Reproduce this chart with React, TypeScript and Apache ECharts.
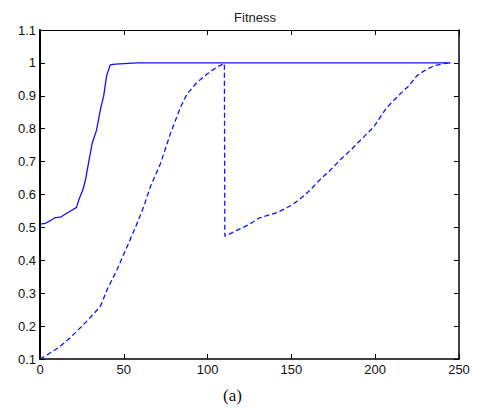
import React, { useEffect, useRef } from "react";
import * as echarts from "echarts";

const xTicks = [0, 50, 100, 150, 200, 250];
const solidX = [0, 3, 6, 9.2, 12.2, 15, 18.2, 21.8, 23.1, 25.7, 27.1, 29.1, 31.1, 33.7, 36.1, 38, 39.7, 41.9, 45, 58, 100, 150, 200, 245];
const solidY = [0.51, 0.512, 0.52, 0.53, 0.531, 0.54, 0.55, 0.561, 0.583, 0.616, 0.644, 0.7, 0.755, 0.795, 0.86, 0.9, 0.96, 0.994, 0.996, 1.0, 1.0, 1.0, 1.0, 1.0];
const dashX = [0, 5, 11.2, 17, 23.1, 28.1, 32, 36.1, 40.1, 46, 52, 58, 61.9, 65.9, 71.9, 77.8, 83.8, 87.8, 93.7, 99.7, 105.7, 110, 110.3, 117, 124.5, 130.5, 141.4, 150.4, 156, 161.3, 167, 173.2, 179, 185.2, 195.1, 199.1, 203, 207, 215, 220, 224.9, 229, 234.8, 240, 244.8];
const dashY = [0.1, 0.115, 0.135, 0.16, 0.19, 0.216, 0.237, 0.261, 0.311, 0.372, 0.442, 0.513, 0.563, 0.624, 0.694, 0.785, 0.865, 0.906, 0.941, 0.966, 0.988, 0.998, 0.473, 0.49, 0.508, 0.528, 0.545, 0.568, 0.59, 0.614, 0.645, 0.674, 0.705, 0.734, 0.785, 0.805, 0.835, 0.865, 0.906, 0.93, 0.961, 0.975, 0.991, 0.997, 1.0];

export default function App() {
  const ref = useRef<HTMLDivElement>(null);
  useEffect(() => {
    if (!ref.current) return;
    const chart = echarts.init(ref.current, null, { renderer: "svg" });
    const font = "Liberation Sans, Arial, sans-serif";
    const blue = "#1010ff";
    const mkTick = () => ({ show: true, inside: true, length: 5, lineStyle: { color: "#000000", width: 1, opacity: 1 } });
    const mkLine = (w: number) => ({ show: true, onZero: false, lineStyle: { color: "#000000", width: w, opacity: 1 } });
    chart.setOption({
      animation: false,
      title: {
        text: "Fitness",
        left: 250,
        top: 6,
        textAlign: "center",
        textStyle: { fontFamily: font, fontSize: 13, fontWeight: "normal", color: "#222" },
      },
      grid: { left: 40, right: 19, top: 30, bottom: 56, show: false },
      graphic: [
        {
          type: "text",
          left: 223,
          top: 387,
          style: { text: "(a)", font: "17px 'Liberation Serif', 'Times New Roman', serif", fill: "#111" },
        },
      ],
      xAxis: [
        {
          type: "value",
          min: 0,
          max: 250,
          interval: 50,
          axisLine: mkLine(1.5),
          axisTick: mkTick(),
          splitLine: { show: false },
          axisLabel: { color: "#111", fontFamily: font, fontSize: 13, margin: 4, formatter: (v: number) => (xTicks.includes(v) ? String(v) : "") },
        },
        {
          type: "value",
          position: "top",
          min: 0,
          max: 250,
          interval: 50,
          axisLine: mkLine(1),
          axisTick: mkTick(),
          splitLine: { show: false },
          axisLabel: { show: false },
        },
      ],
      yAxis: [
        {
          type: "value",
          min: 0.1,
          max: 1.1,
          interval: 0.1,
          axisLine: mkLine(2),
          axisTick: mkTick(),
          splitLine: { show: false },
          axisLabel: {
            color: "#111",
            fontFamily: font,
            fontSize: 13,
            margin: 4,
            formatter: (v: number) => String(Math.round(v * 10) / 10),
          },
        },
        {
          type: "value",
          position: "right",
          min: 0.1,
          max: 1.1,
          interval: 0.1,
          axisLine: mkLine(1.5),
          axisTick: mkTick(),
          splitLine: { show: false },
          axisLabel: { show: false },
        },
      ],
      series: [
        {
          type: "line",
          data: solidX.map((x, i) => [x, solidY[i]]),
          showSymbol: false,
          lineStyle: { color: blue, width: 1.3 },
        },
        {
          type: "line",
          data: dashX.map((x, i) => [x, dashY[i]]),
          showSymbol: false,
          lineStyle: { color: blue, width: 1.3, type: [5, 3] },
        },
      ],
    });
    return () => chart.dispose();
  }, []);
  return <div ref={ref} style={{ width: 478, height: 415, position: "absolute", left: 0, top: 0 }} />;
}
